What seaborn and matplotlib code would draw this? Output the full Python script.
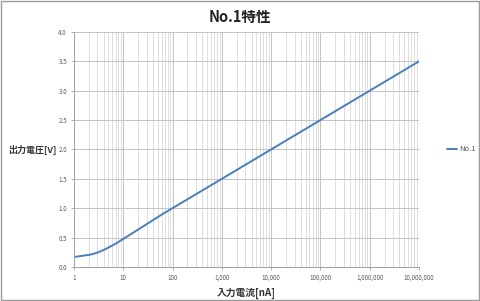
import matplotlib
matplotlib.use("Agg")
import matplotlib.pyplot as plt
import seaborn as sns
import pandas as pd
import numpy as np
from matplotlib.ticker import FixedLocator, LogLocator, NullFormatter

sns.set_theme(style="white")
plt.rcParams['font.family'] = ['Noto Sans CJK JP', 'DejaVu Sans']

current_nA = [1, 2, 3, 4, 5, 6, 7, 8, 9, 10, 20, 30, 50, 100, 1000, 10000, 100000, 1000000, 10000000]
voltage_V = [0.17, 0.205, 0.245, 0.29, 0.33, 0.365, 0.395, 0.425, 0.45, 0.475, 0.635, 0.73, 0.85, 1.0, 1.5, 2.0, 2.5, 3.0, 3.5]
series_name = "No.1"
x_ticks = [1, 10, 100, 1000, 10000, 100000, 1000000, 10000000]
x_tick_labels = ["1", "10", "100", "1,000", "10,000", "100,000", "1,000,000", "10,000,000"]
y_ticks = [0.0, 0.5, 1.0, 1.5, 2.0, 2.5, 3.0, 3.5, 4.0]

def pchip(x, y, xn):
    x = np.asarray(x, float); y = np.asarray(y, float)
    h = np.diff(x); d = np.diff(y) / h
    m = np.zeros_like(y)
    for k in range(1, len(x) - 1):
        if d[k-1] * d[k] > 0:
            w1 = 2*h[k] + h[k-1]; w2 = h[k] + 2*h[k-1]
            m[k] = (w1 + w2) / (w1/d[k-1] + w2/d[k])
    m[0] = d[0]; m[-1] = d[-1]
    idx = np.clip(np.searchsorted(x, xn) - 1, 0, len(x) - 2)
    t = (xn - x[idx]) / h[idx]
    h00 = 2*t**3 - 3*t**2 + 1; h10 = t**3 - 2*t**2 + t
    h01 = -2*t**3 + 3*t**2; h11 = t**3 - t**2
    return h00*y[idx] + h10*h[idx]*m[idx] + h01*y[idx+1] + h11*h[idx]*m[idx+1]

lx = np.log10(current_nA)
fine = np.linspace(lx[0], lx[-1], 400)
df = pd.DataFrame({"x": 10**fine, "y": pchip(lx, voltage_V, fine), "series": series_name})

fig = plt.figure(figsize=(4.8, 3.01), dpi=100)
ax = fig.add_axes([0.154, 0.113, 0.719, 0.781])
sns.lineplot(data=df, x="x", y="y", hue="series", palette=["#4a7ebb"], linewidth=1.4, ax=ax)
ax.set_xscale("log")
ax.set_xlim(1, 1e7)
ax.set_ylim(0, 4.0)
ax.xaxis.set_major_locator(FixedLocator(x_ticks))
ax.set_xticklabels(x_tick_labels)
ax.xaxis.set_minor_locator(LogLocator(base=10, subs=np.arange(2, 10)))
ax.xaxis.set_minor_formatter(NullFormatter())
ax.set_yticks(y_ticks)
ax.set_yticklabels([f"{v:.1f}" for v in y_ticks])
ax.grid(True, which="major", color="#c4c4c4", linewidth=0.7)
ax.grid(True, which="minor", axis="x", color="#d8d8d8", linewidth=0.6)
for s in ["top", "right"]:
    ax.spines[s].set_visible(False)
for s in ["left", "bottom"]:
    ax.spines[s].set_color("#a0a0a0")
    ax.spines[s].set_linewidth(0.7)
ax.tick_params(axis="both", labelsize=4.5, colors="#595959", length=2, width=0.6, color="#a0a0a0", pad=3)
ax.tick_params(axis="x", which="minor", length=0)
ax.tick_params(axis="x", which="major", bottom=True)
ax.tick_params(axis="y", left=True)
ax.set_xlabel("入力電流[nA]", fontsize=7, fontweight="bold", color="#333333", labelpad=4)
ax.set_ylabel("")
fig.text(56/480, 0.503, "出力電圧[V]", fontsize=6.5, fontweight="bold", color="#333333",
         ha="right", va="center")
fig.suptitle("No.1特性", fontsize=10.5, fontweight="bold", color="#222222", y=0.97)
leg = ax.legend(loc="center left", bbox_to_anchor=(1.06, 0.5), frameon=False, fontsize=5.5,
                handlelength=1.4, handletextpad=0.3)
for t in leg.get_texts():
    t.set_color("#595959")
fig.patches.append(plt.Rectangle((0.002, 0.003), 0.996, 0.994, transform=fig.transFigure,
                                 fill=False, edgecolor="#9a9a9a", linewidth=1.0))
fig.savefig("out.png", dpi=100)
